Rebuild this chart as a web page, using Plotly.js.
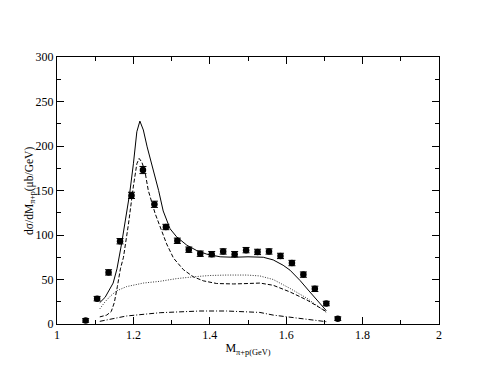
<!DOCTYPE html>
<html>
<head>
<meta charset="utf-8">
<script src="https://cdn.plot.ly/plotly-3.0.1.min.js"></script>
<style>html,body{margin:0;padding:0;background:#fff}#chart{width:494px;height:382px}</style>
</head>
<body>
<div id="chart"></div>
<script>
// Experimental data
var dataX = [1.075,1.105,1.135,1.165,1.195,1.225,1.255,1.285,1.315,1.345,1.375,1.405,1.435,1.465,1.495,1.525,1.555,1.585,1.615,1.645,1.675,1.705,1.735];
var dataY = [4,28.5,58,93,144.5,173,134.5,109,93.5,83.5,79,78.5,81.5,78.5,83,81,81.5,76.5,68.5,55.5,39.5,23,6];
var dataErr = [2,2.5,3,3,3.5,4,3.5,3,3,3,3,3,3,3,3,3,3,3,3,3,3,2.5,2];

// Total (solid)
var totalX = [1.112,1.126,1.147,1.157,1.169,1.180,1.190,1.200,1.209,1.217,1.226,1.236,1.252,1.266,1.278,1.296,1.313,1.340,1.366,1.392,1.427,1.462,1.500,1.540,1.566,1.592,1.610,1.636,1.662,1.688,1.705];
var totalY = [24,30,46,62,90,118,146,180,216,228,218,199,174,150,127,107,98,88.5,82.5,78.5,75.5,75,75.5,75,72,66,60.5,49,36,23,15];

// Delta contribution (dashed)
var deltaX = [1.112,1.130,1.142,1.150,1.158,1.166,1.174,1.187,1.200,1.209,1.215,1.222,1.230,1.239,1.257,1.274,1.287,1.305,1.331,1.357,1.383,1.418,1.462,1.500,1.531,1.566,1.610,1.654,1.705];
var deltaY = [8,10,14,24,42,62,75,112,155,180,186,182,172,150,124,105,90,74,61,53,48.5,45.5,45,45.5,46,43.5,36,27,14];

// Background (dotted)
var bgX = [1.112,1.126,1.139,1.155,1.182,1.226,1.270,1.313,1.357,1.400,1.444,1.497,1.531,1.566,1.610,1.654,1.705];
var bgY = [17,25,31,37,42,46,48,51,53,54.5,55,55,54,50,40,29,13];

// Small contribution (dash-dot)
var smX = [1.112,1.182,1.270,1.374,1.444,1.479,1.531,1.566,1.654,1.705];
var smY = [3,9,12.7,14.6,14.6,13.8,13,10,5.6,2.6];

var yTitle = 'dσ/dM<sub>π+p</sub>(μb/GeV)';
var xTitle = 'M<sub>π+p(GeV)</sub>';

var traces = [
  {x: totalX, y: totalY, mode:'lines', line:{color:'#000', width:1, dash:'solid'}, hoverinfo:'skip'},
  {x: deltaX, y: deltaY, mode:'lines', line:{color:'#000', width:1, dash:'4px,2px'}, hoverinfo:'skip'},
  {x: bgX, y: bgY, mode:'lines', line:{color:'#000', width:0.8, dash:'1px,1.5px'}, hoverinfo:'skip'},
  {x: smX, y: smY, mode:'lines', line:{color:'#000', width:1, dash:'5px,2px,1px,2px'}, hoverinfo:'skip'},
  {x: dataX, y: dataY, mode:'markers', marker:{color:'#000', size:6.5, symbol:'circle'},
   error_y:{type:'data', array:dataErr, visible:true, color:'#000', thickness:1, width:3.5}}
];

var fontFam = '"Liberation Serif", "DejaVu Serif", serif';
var layout = {
  width: 494, height: 382,
  margin: {l:57, r:55, t:56.5, b:58},
  paper_bgcolor:'#fff', plot_bgcolor:'#fff',
  showlegend:false,
  font:{family:fontFam, size:12, color:'#000'},
  xaxis:{
    range:[1,2], dtick:0.2, tick0:1,
    showgrid:false, zeroline:false,
    showline:true, linecolor:'#000', linewidth:1, mirror:'allticks',
    ticks:'inside', ticklen:7, tickcolor:'#000', tickwidth:1,
    minor:{dtick:0.1, ticks:'inside', ticklen:4, tickcolor:'#000', showgrid:false},
    tickfont:{family:fontFam, size:12},
    title:{text:xTitle, font:{family:fontFam, size:12}, standoff:2}
  },
  yaxis:{
    range:[0,300], dtick:50,
    showgrid:false, zeroline:false,
    showline:true, linecolor:'#000', linewidth:1, mirror:'allticks',
    ticks:'inside', ticklen:7, tickcolor:'#000', tickwidth:1,
    minor:{dtick:25, ticks:'inside', ticklen:4, tickcolor:'#000', showgrid:false},
    tickfont:{family:fontFam, size:12}
  },
  annotations:[{
    text: yTitle, xref:'paper', yref:'paper', x:-0.072, y:0.5,
    xanchor:'center', yanchor:'middle', textangle:-90, showarrow:false,
    font:{family:fontFam, size:11.5, color:'#000'}
  }]
};
Plotly.newPlot('chart', traces, layout, {staticPlot:true, displayModeBar:false});
</script>
</body>
</html>
